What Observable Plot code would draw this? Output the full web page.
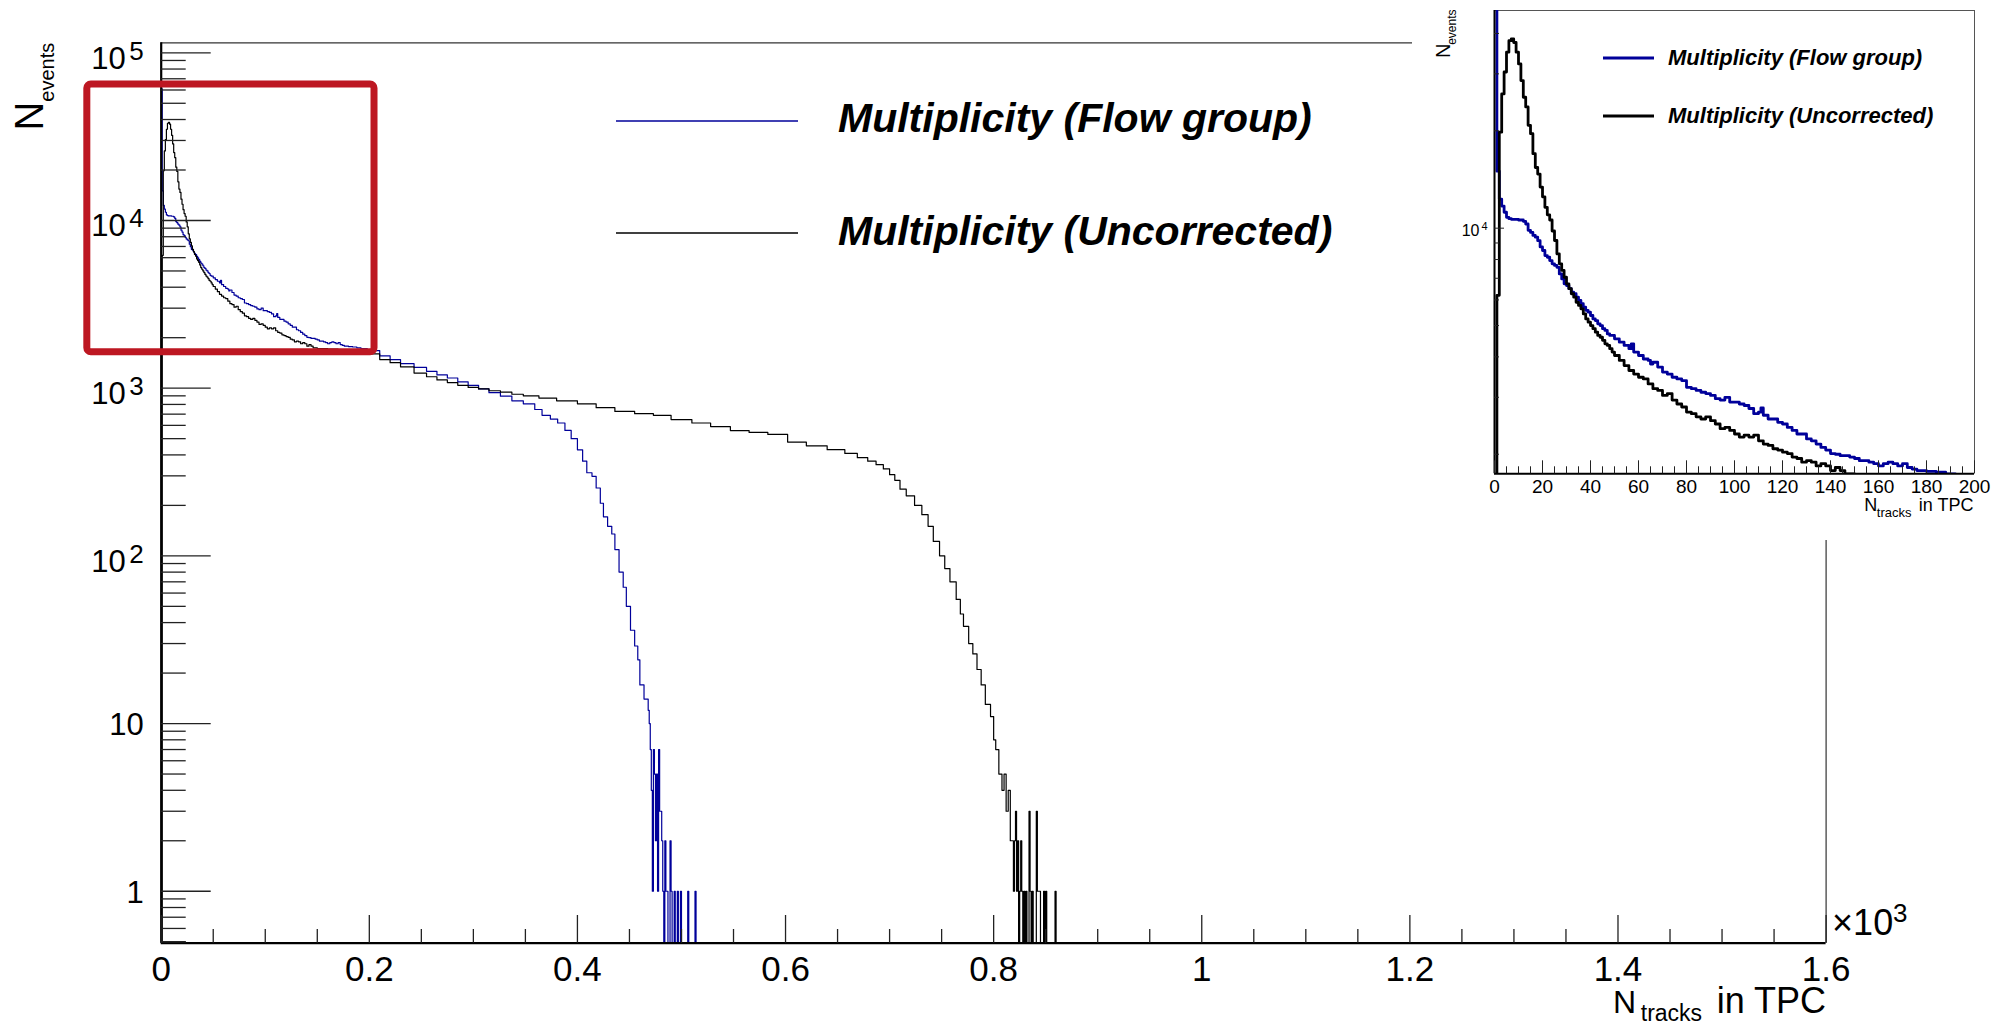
<!DOCTYPE html>
<html>
<head>
<meta charset="utf-8">
<script src="https://cdn.jsdelivr.net/npm/d3@7"></script>
<script src="https://cdn.jsdelivr.net/npm/@observablehq/plot@0.6"></script>
<style>
html, body { margin: 0; padding: 0; background: #fff; }
#wrap { position: relative; width: 1993px; height: 1027px; overflow: hidden; background: #fff; }
#main { position: absolute; left: 0; top: 0; width: 1993px; height: 1027px; }
#inset { position: absolute; left: 1412px; top: 0; width: 581px; height: 540px; background: #fff; }
</style>
</head>
<body>
<div id="wrap"><div id="main"></div><div id="inset"></div></div>
<script>
// ---------------- data (bin low edge in tracks, events) ----------------
const flowGroup = [
  [0,61000],[1,15000],[2,12300],[3,11700],[4,11200],[5,10800],[6,10700],[7,10650],[8,10650],[9,10650],
  [10,10600],[11,10600],[12,10500],[13,10300],[14,9850],[15,9700],[16,9500],[17,9380],[18,9150],[19,8750],
  [20,8530],[21,8230],[22,8130],[23,7940],[24,7760],[25,7670],[26,7570],[27,7220],[28,6970],[29,6730],
  [30,6650],[31,6500],[32,6340],[33,6270],[34,6120],[35,5980],[36,5840],[37,5700],[38,5570],[39,5500],
  [40,5370],[41,5240],[42,5180],[43,5060],[44,5000],[45,4890],[46,4830],[47,4710],[48,4660],[50,4550],
  [52,4440],[54,4340],[56,4240],[57,4390],[58,4140],[60,4040],[62,3940],[64,3900],[65,3800],[66,3850],
  [68,3720],[70,3590],[72,3540],[74,3460],[76,3420],[78,3380],[80,3220],[82,3190],[84,3150],[86,3110],
  [88,3080],[90,3040],[92,2970],[94,2940],[96,3000],[98,2900],[100,2900],[102,2860],[104,2830],[106,2770],
  [108,2670],[110,2700],[111,2780],[112,2640],[114,2570],[116,2570],[118,2510],[120,2480],[122,2420],[124,2370],
  [126,2310],[128,2310],[130,2230],[132,2200],[134,2150],[136,2100],[138,2060],[140,2010],[142,2000],[144,1980],
  [146,1980],[148,1960],[150,1940],[152,1910],[154,1910],[156,1890],[158,1870],[160,1840],[162,1870],[164,1890],
  [166,1870],[168,1840],[170,1870],[172,1820],[174,1800],[176,1780],[180,1770],[184,1760],[188,1740],[192,1720],
  [198,1676],[210,1560],[220,1480],[230,1400],[243,1330],[255,1260],[265,1200],[275,1150],[285,1090],[295,1040],
  [305,990],[315,940],[326,896],[337,841],[348,807],[359,746],[366,689],[374,654],[381,620],[388,560],
  [394,500],[400,429],[405,367],[409,313],[414,298],[418,254],[422,206],[425,171],[429,150],[433,135],
  [436,109],[440,80],[444,65],[447,50],[451,36],[455,29],[458,24],[460,17],[464,14],[468,12],
  [469,10],[470,7],[471,4],[472,1],[473,7],[474,5],[475,2],[476,5],[477,1],[478,7],
  [479,3],[480,3],[481,2],[482,1],[483,0],[484,2],[485,1],[486,1],[487,0],[489,2],
  [490,1],[491,0],[493,1],[494,0],[496,1],[497,0],[499,1],[500,0],[506,1],[507,0],[513,1],[514,0]
];
const uncorrected = [
  [0,0],[1,6200],[2,19800],[3,26000],[4,30400],[5,35000],[6,38000],[7,38500],[8,37500],[9,35000],
  [10,32200],[11,28600],[12,25400],[13,23700],[14,20800],[15,19600],[16,17000],[17,15400],[18,14700],[19,13400],
  [20,12500],[21,11600],[22,11000],[23,10600],[24,9800],[25,9160],[26,8330],[27,7760],[28,7400],[29,7050],
  [30,6730],[31,6500],[32,6270],[33,6120],[34,5900],[35,5770],[36,5630],[37,5430],[38,5240],[39,5120],
  [40,5000],[41,4890],[42,4770],[43,4660],[44,4600],[45,4500],[46,4390],[47,4340],[48,4240],[49,4140],
  [50,4040],[52,3900],[54,3760],[56,3630],[58,3540],[60,3460],[62,3420],[64,3300],[66,3190],[68,3150],
  [70,3040],[72,3080],[74,2940],[76,2860],[78,2800],[80,2700],[82,2670],[84,2610],[86,2570],[88,2610],
  [90,2540],[92,2480],[94,2400],[96,2420],[98,2370],[100,2310],[102,2260],[104,2290],[106,2260],[108,2290],
  [110,2200],[112,2150],[114,2130],[116,2080],[118,2060],[120,2030],[122,2010],[124,1960],[126,1940],[128,1890],
  [130,1910],[132,1890],[134,1840],[136,1870],[138,1840],[140,1780],[142,1820],[144,1780],[146,1740],[150,1720],
  [160,1710],[170,1700],[180,1660],[190,1630],[198,1600],[210,1480],[220,1420],[230,1340],[243,1230],[255,1170],
  [265,1120],[275,1080],[285,1040],[295,1010],[305,990],[315,965],[326,946],[337,920],[348,900],[363,873],
  [380,840],[400,807],[418,765],[436,727],[455,705],[473,689],[490,650],[510,620],[528,590],[547,559],
  [565,545],[583,530],[602,477],[620,453],[640,430],[657,408],[669,385],[679,367],[687,350],[694,330],
  [700,305],[705,282],[710,250],[716,228],[724,200],[731,176],[737,150],[742,122],[748,100],[753,84],
  [758,70],[764,55],[768,45],[771,38],[776,30],[780,26],[784,21],[788,17],[792,13],[797,11],
  [800,8],[802,7],[805,5],[808,4],[810,5],[812,3],[814,4],[816,2],[818,2],[819,1],
  [820,2],[821,3],[822,1],[823,2],[824,0],[825,1],[826,2],[827,1],[828,0],[829,1],
  [830,0],[831,1],[832,0],[834,3],[835,1],[836,0],[837,1],[838,0],[841,3],[842,1],
  [844,1],[845,0],[848,1],[849,0],[850,1],[851,0],[859,1],[860,0]
];
const seriesNames = ["Multiplicity (Flow group)", "Multiplicity (Uncorrected)"];
const seriesColors = ["#00009a", "#000000"];

// main axes
const xMajor = [0, 200, 400, 600, 800, 1000, 1200, 1400, 1600];
const xTickLabels = ["0", "0.2", "0.4", "0.6", "0.8", "1", "1.2", "1.4", "1.6"];
const yMajor = [1, 10, 100, 1000, 10000, 100000];
const yLabelBase = ["1", "10", "10", "10", "10", "10"];
const yLabelExp = ["", "", "2", "3", "4", "5"];
// inset axes
const insetXMajor = [0, 20, 40, 60, 80, 100, 120, 140, 160, 180, 200];
const insetXLabels = ["0", "20", "40", "60", "80", "100", "120", "140", "160", "180", "200"];
const insetYMajor = [10000];
const insetYBase = ["10"];
const insetYExp = ["4"];
// zoom box drawn on the main plot: [tracks from, tracks to], [events from, events to]
const zoomBoxTracks = [-71, 205];
const zoomBoxEvents = [1640, 64700];

// ---------------- helpers ----------------
const FONT = "'Liberation Sans', Arial, Helvetica, sans-serif";
const toRows = arr => arr.map(([t, n]) => ({t, n}));
const flowRows = toRows(flowGroup);
const uncRows = toRows(uncorrected);
const minorLog = (lo, hi) => {
  const out = [];
  for (let d = Math.floor(Math.log10(lo)) - 1; d <= Math.ceil(Math.log10(hi)); d++)
    for (let k = 2; k <= 9; k++) { const v = k * Math.pow(10, d); if (v >= lo && v <= hi) out.push(v); }
  return out;
};
function legendMark(o) {
  return () => {
    const g = d3.create("svg:g");
    seriesNames.forEach((name, i) => {
      g.append("line").attr("x1", o.lineX1).attr("x2", o.lineX2)
        .attr("y1", o.lineY[i]).attr("y2", o.lineY[i])
        .attr("stroke", seriesColors[i]).attr("stroke-width", o.lineWidth);
      g.append("text").attr("x", o.textX).attr("y", o.textY[i])
        .attr("text-anchor", "start")
        .attr("font-size", o.fontSize).attr("font-weight", "bold").attr("font-style", "italic")
        .attr("fill", "#000").attr("font-family", FONT).text(name);
    });
    return g.node();
  };
}

// ---------------- main plot ----------------
const W = 1993, H = 1027;
const M = {left: 160.7, right: 167.4, top: 42.3, bottom: 84.3};
const fw = W - M.left - M.right, fh = H - M.top - M.bottom;
const yDom = [0.49, 114700];
const yMinor = minorLog(0.5, 100000).concat([0.5]).filter(v => !yMajor.includes(v));
const xMinor = d3.range(50, 1600, 50).filter(v => v % 200 !== 0);
const yRows = yMajor.map((v, i) => ({v, base: yLabelBase[i], exp: yLabelExp[i]}));
const floorY = d => Math.max(d.n, yDom[0]);

const main = Plot.plot({
  width: W, height: H,
  marginLeft: M.left, marginRight: M.right, marginTop: M.top, marginBottom: M.bottom,
  x: {domain: [0, 1600], axis: null},
  y: {type: "log", domain: yDom, axis: null},
  style: {fontFamily: FONT, background: "#fff", overflow: "visible", maxWidth: "none"},
  marks: [
    Plot.line(flowRows, {x: "t", y: floorY, curve: "step-after", stroke: seriesColors[0], strokeWidth: 1.2, clip: true}),
    Plot.line(uncRows, {x: "t", y: floorY, curve: "step-after", stroke: seriesColors[1], strokeWidth: 1.2, clip: true}),
    // frame
    Plot.ruleY([yDom[1]], {stroke: "#333", strokeWidth: 1.2}),
    Plot.ruleX([1600], {stroke: "#333", strokeWidth: 1.2}),
    Plot.ruleX([0], {stroke: "#000", strokeWidth: 2.2}),
    Plot.ruleY([yDom[0]], {stroke: "#000", strokeWidth: 2.2}),
    // ticks
    Plot.tickY(yMajor, {y: d => d, insetRight: fw - 50, stroke: "#222", strokeWidth: 1.3}),
    Plot.tickY(yMinor, {y: d => d, insetRight: fw - 25, stroke: "#222", strokeWidth: 1.3}),
    Plot.tickX(xMajor, {x: d => d, insetTop: fh - 27.7, stroke: "#222", strokeWidth: 1.3}),
    Plot.tickX(xMinor, {x: d => d, insetTop: fh - 13.7, stroke: "#222", strokeWidth: 1.3}),
    // y tick labels
    Plot.text(yRows.filter(d => !d.exp), {y: "v", text: "base", frameAnchor: "left", textAnchor: "end", lineAnchor: "bottom", dx: -17.4, dy: 11.4, fontSize: 31, fill: "#000"}),
    Plot.text(yRows.filter(d => d.exp), {y: "v", text: "base", frameAnchor: "left", textAnchor: "end", lineAnchor: "bottom", dx: -35.5, dy: 16, fontSize: 31, fill: "#000"}),
    Plot.text(yRows.filter(d => d.exp), {y: "v", text: "exp", frameAnchor: "left", textAnchor: "end", lineAnchor: "bottom", dx: -17.4, dy: 7, fontSize: 26, fill: "#000"}),
    // x tick labels
    Plot.text(xMajor.map((v, i) => ({v, s: xTickLabels[i]})), {x: "v", text: "s", frameAnchor: "bottom", textAnchor: "middle", lineAnchor: "bottom", dy: 37.3, fontSize: 35, fill: "#000"}),
    // x10^3
    Plot.text(["×10"], {frameAnchor: "bottom-right", textAnchor: "start", lineAnchor: "bottom", dx: 6, dy: -8.5, fontSize: 36, fill: "#000"}),
    Plot.text(["3"], {frameAnchor: "bottom-right", textAnchor: "start", lineAnchor: "bottom", dx: 67, dy: -21, fontSize: 26, fill: "#000"}),
    // x title
    Plot.text(["in TPC"], {frameAnchor: "bottom-right", textAnchor: "end", lineAnchor: "bottom", dx: 0, dy: 69.5, fontSize: 36, fill: "#000"}),
    Plot.text(["tracks"], {frameAnchor: "bottom-right", textAnchor: "end", lineAnchor: "bottom", dx: -124, dy: 78, fontSize: 23, fill: "#000"}),
    Plot.text(["N"], {frameAnchor: "bottom-right", textAnchor: "end", lineAnchor: "bottom", dx: -190, dy: 69.5, fontSize: 32, fill: "#000"}),
    // y title
    Plot.text(["events"], {frameAnchor: "top-left", rotate: -90, textAnchor: "end", lineAnchor: "bottom", dx: -107.7, dy: 0, fontSize: 20, fill: "#000"}),
    Plot.text(["N"], {frameAnchor: "top-left", rotate: -90, textAnchor: "end", lineAnchor: "bottom", dx: -118.7, dy: 58.7, fontSize: 40, fill: "#000"}),
    // legend
    legendMark({lineX1: 616, lineX2: 798, lineY: [121, 233], textX: 838, textY: [132, 245], fontSize: 41, lineWidth: 1.5}),
    // zoom box
    Plot.rect([0], {x1: () => zoomBoxTracks[0], x2: () => zoomBoxTracks[1], y1: () => zoomBoxEvents[0], y2: () => zoomBoxEvents[1],
      fill: "none", stroke: "#bd1722", strokeWidth: 7, rx: 4})
  ]
});
document.getElementById("main").appendChild(main);

// ---------------- inset ----------------
const IW = 581, IH = 540;
const IM = {left: 82, right: 19, top: 10, bottom: 66.7};
const ifw = IW - IM.left - IM.right, ifh = IH - IM.top - IM.bottom;
const iyDom = [1740, 47100];
const insetYMinor = minorLog(1740, 47100).filter(v => !insetYMajor.includes(v));
const insetXMinor = d3.range(5, 200, 5).filter(v => v % 20 !== 0);
const iyRows = insetYMajor.map((v, i) => ({v, base: insetYBase[i], exp: insetYExp[i]}));

const inset = Plot.plot({
  width: IW, height: IH,
  marginLeft: IM.left, marginRight: IM.right, marginTop: IM.top, marginBottom: IM.bottom,
  x: {domain: [0, 200], axis: null},
  y: {type: "log", domain: iyDom, axis: null},
  style: {fontFamily: FONT, background: "#fff", overflow: "visible", maxWidth: "none"},
  marks: [
    Plot.ruleY([iyDom[1]], {stroke: "#555", strokeWidth: 1}),
    Plot.ruleX([200], {stroke: "#555", strokeWidth: 1}),
    Plot.line(flowRows, {x: "t", y: floorY, curve: "step-after", stroke: seriesColors[0], strokeWidth: 2.8, clip: true}),
    Plot.line(uncRows, {x: "t", y: floorY, curve: "step-after", stroke: seriesColors[1], strokeWidth: 2.8, clip: true}),
    Plot.ruleX([0], {stroke: "#000", strokeWidth: 2}),
    Plot.ruleY([iyDom[0]], {stroke: "#000", strokeWidth: 2}),
    Plot.tickY(insetYMajor, {y: d => d, insetRight: ifw - 10, stroke: "#222", strokeWidth: 1}),
    Plot.tickY(insetYMinor, {y: d => d, insetRight: ifw - 5, stroke: "#222", strokeWidth: 1}),
    Plot.tickX(insetXMajor, {x: d => d, insetTop: ifh - 13, stroke: "#222", strokeWidth: 1}),
    Plot.tickX(insetXMinor, {x: d => d, insetTop: ifh - 7, stroke: "#222", strokeWidth: 1}),
    Plot.text(insetXMajor.map((v, i) => ({v, s: insetXLabels[i]})), {x: "v", text: "s", frameAnchor: "bottom", textAnchor: "middle", lineAnchor: "bottom", dy: 18.7, fontSize: 19, fill: "#000"}),
    Plot.text(iyRows, {y: "v", text: "base", frameAnchor: "left", textAnchor: "end", lineAnchor: "bottom", dx: -15, dy: 8.3, fontSize: 16, fill: "#000"}),
    Plot.text(iyRows, {y: "v", text: "exp", frameAnchor: "left", textAnchor: "end", lineAnchor: "bottom", dx: -7, dy: 1.5, fontSize: 11, fill: "#000"}),
    Plot.text(["in TPC"], {frameAnchor: "bottom-right", textAnchor: "end", lineAnchor: "bottom", dx: -1, dy: 36.7, fontSize: 18, fill: "#000"}),
    Plot.text(["tracks"], {frameAnchor: "bottom-right", textAnchor: "end", lineAnchor: "bottom", dx: -63, dy: 43.4, fontSize: 13, fill: "#000"}),
    Plot.text(["N"], {frameAnchor: "bottom-right", textAnchor: "end", lineAnchor: "bottom", dx: -97.3, dy: 36.7, fontSize: 18, fill: "#000"}),
    Plot.text(["events"], {frameAnchor: "top-left", rotate: -90, textAnchor: "end", lineAnchor: "bottom", dx: -39, dy: -1, fontSize: 12, fill: "#000"}),
    Plot.text(["N"], {frameAnchor: "top-left", rotate: -90, textAnchor: "end", lineAnchor: "bottom", dx: -45, dy: 33, fontSize: 20, fill: "#000"}),
    legendMark({lineX1: 191, lineX2: 242, lineY: [58, 116], textX: 256, textY: [65, 123], fontSize: 22, lineWidth: 3})
  ]
});
document.getElementById("inset").appendChild(inset);
</script>
</body>
</html>
